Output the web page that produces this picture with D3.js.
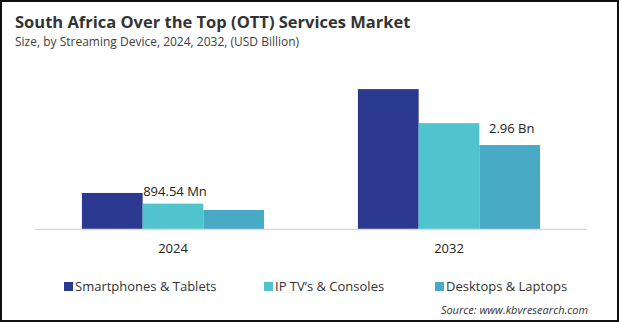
<!DOCTYPE html>
<html>
<head>
<meta charset="utf-8">
<script src="https://cdn.jsdelivr.net/npm/d3@7"></script>
<style>
  body { margin: 0; background: #fff; }
  svg { display: block; font-family: "Open Sans", sans-serif; }
</style>
</head>
<body>
<script>
// market size by streaming device, USD billion
var years = ["2024", "2032"];
var devices = ["Smartphones & Tablets", "IP TV\u2019s & Consoles", "Desktops & Laptops"];
var smartphones = [1.27, 4.93];
var iptv = [0.89454, 3.73];
var desktops = [0.67, 2.96];
var colors = ["#2b3990", "#4fc4cf", "#48aac4"];

var w = 619;
var h = 322;

var svg = d3.select("body").append("svg")
  .attr("width", w)
  .attr("height", h);

svg.append("rect")
  .attr("x", 1).attr("y", 1)
  .attr("width", w - 2).attr("height", h - 2)
  .attr("fill", "#fff")
  .attr("stroke", "#111")
  .attr("stroke-width", 2);

svg.append("text")
  .attr("x", 15).attr("y", 28)
  .attr("font-size", 16.5)
  .attr("font-weight", "bold")
  .attr("fill", "#333")
  .text("South Africa Over the Top (OTT) Services Market");

svg.append("text")
  .attr("x", 15).attr("y", 46)
  .attr("font-size", 12)
  .attr("fill", "#404040")
  .text("Size, by Streaming Device, 2024, 2032, (USD Billion)");

var series = [smartphones, iptv, desktops];
var rows = years.map(function(yr, i) {
  return { year: yr, values: series.map(function(s, k) { return { k: k, v: s[i] }; }) };
});

var x0 = d3.scaleBand()
  .domain(years)
  .range([35, 587])
  .paddingInner(0.34)
  .paddingOuter(0.17);

var x1 = d3.scaleBand()
  .domain(d3.range(devices.length))
  .range([0, x0.bandwidth()]);

var y = d3.scaleLinear()
  .domain([0, 5.5])
  .range([229, 229 - 5.5 / 0.03524]);

var groups = svg.selectAll("g.year")
  .data(rows)
  .enter().append("g")
  .attr("class", "year")
  .attr("transform", function(d) { return "translate(" + x0(d.year) + ",0)"; });

groups.selectAll("rect")
  .data(function(d) { return d.values; })
  .enter().append("rect")
  .attr("x", function(d) { return x1(d.k); })
  .attr("y", function(d) { return y(d.v); })
  .attr("width", x1.bandwidth())
  .attr("height", function(d) { return y(0) - y(d.v); })
  .attr("fill", function(d) { return colors[d.k]; });

// baseline
svg.append("line")
  .attr("x1", 35).attr("x2", 587)
  .attr("y1", y(0) + 0.5).attr("y2", y(0) + 0.5)
  .style("stroke", "#d9d9d9")
  .style("stroke-width", 1.5);

// category labels
svg.selectAll("text.year")
  .data(years)
  .enter().append("text")
  .attr("class", "year")
  .attr("x", function(d) { return x0(d) + x0.bandwidth() / 2; })
  .attr("y", 253)
  .attr("text-anchor", "middle")
  .attr("font-size", 13)
  .attr("fill", "#222")
  .text(function(d) { return d; });

// value callouts
var callouts = [
  { year: "2024", k: 1, v: iptv[0], text: "894.54 Mn", gap: 8 },
  { year: "2032", k: 2, v: desktops[1], text: "2.96 Bn", gap: 12 }
];
svg.selectAll("text.callout")
  .data(callouts)
  .enter().append("text")
  .attr("class", "callout")
  .attr("x", function(d) { return x0(d.year) + x1(d.k) + x1.bandwidth() / 2 + 2; })
  .attr("y", function(d) { return y(d.v) - d.gap; })
  .attr("text-anchor", "middle")
  .attr("font-size", 13)
  .attr("fill", "#222")
  .text(function(d) { return d.text; });

// legend
var legendX = [64, 264, 435];
var legend = svg.selectAll("g.legend")
  .data(devices)
  .enter().append("g")
  .attr("class", "legend")
  .attr("transform", function(d, i) { return "translate(" + legendX[i] + ",282)"; });

legend.append("rect")
  .attr("width", 9).attr("height", 9)
  .attr("fill", function(d, i) { return colors[i]; });

legend.append("text")
  .attr("x", 11).attr("y", 9)
  .attr("font-size", 13)
  .attr("fill", "#333")
  .text(function(d) { return d; });

svg.append("text")
  .attr("x", 588).attr("y", 314)
  .attr("text-anchor", "end")
  .attr("font-size", 11)
  .attr("font-style", "italic")
  .attr("fill", "#333")
  .text("Source: www.kbvresearch.com");
</script>
</body>
</html>
